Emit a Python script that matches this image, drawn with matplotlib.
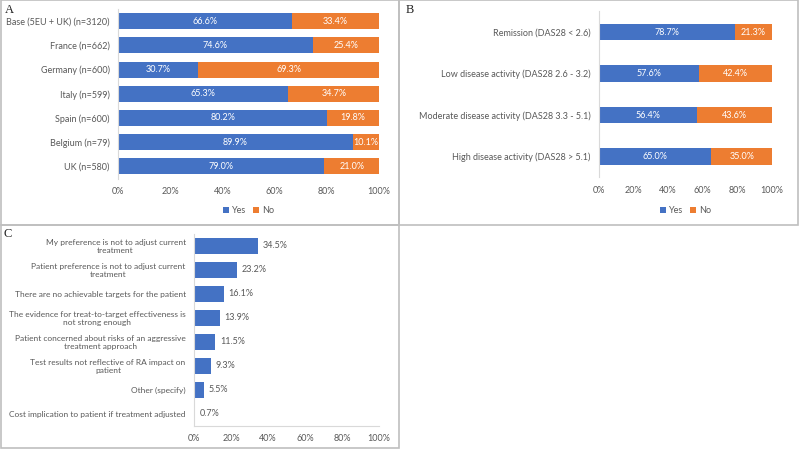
import matplotlib.pyplot as plt
from matplotlib.patches import Rectangle

# ---- data ----
a_labels = ['Base (5EU + UK) (n=3120)', 'France (n=662)', 'Germany (n=600)',
            'Italy (n=599)', 'Spain (n=600)', 'Belgium (n=79)', 'UK (n=580)']
a_yes = [66.6, 74.6, 30.7, 65.3, 80.2, 89.9, 79.0]
a_no = [33.4, 25.4, 69.3, 34.7, 19.8, 10.1, 21.0]

b_labels = ['Remission (DAS28 < 2.6)', 'Low disease activity (DAS28 2.6 - 3.2)',
            'Moderate disease activity (DAS28 3.3 - 5.1)', 'High disease activity (DAS28 > 5.1)']
b_yes = [78.7, 57.6, 56.4, 65.0]
b_no = [21.3, 42.4, 43.6, 35.0]

c_labels = ['My preference is not to adjust current\ntreatment',
            'Patient preference is not to adjust current\ntreatment',
            'There are no achievable targets for the patient',
            'The evidence for treat-to-target effectiveness is\nnot strong enough',
            'Patient concerned about risks of an aggressive\ntreatment approach',
            'Test results not reflective of RA impact on\npatient',
            'Other (specify)',
            'Cost implication to patient if treatment adjusted']
c_vals = [34.5, 23.2, 16.1, 13.9, 11.5, 9.3, 5.5, 0.7]

ticks = [0, 20, 40, 60, 80, 100]
tick_labels = ['0%', '20%', '40%', '60%', '80%', '100%']

BLUE = '#4472C4'
ORANGE = '#ED7D31'
GRAY = '#595959'
LINE = '#BFBFBF'
FS = 6.5

plt.rcParams['font.family'] = ['Lato', 'DejaVu Sans']
W, H = 799, 450
fig = plt.figure(figsize=(W / 100, H / 100), dpi=100)


def px_axes(x0, y0, x1, y1):
    return fig.add_axes([x0 / W, 1 - y1 / H, (x1 - x0) / W, (y1 - y0) / H])


def style_axis(ax, n):
    ax.set_xlim(0, 100)
    ax.set_ylim(n - 0.5, -0.5)
    ax.set_xticks(ticks)
    ax.set_xticklabels(tick_labels, fontsize=FS, color=GRAY)
    ax.tick_params(axis='both', length=0, pad=6)
    for s in ['top', 'right', 'bottom']:
        ax.spines[s].set_visible(False)
    ax.spines['left'].set_color('#D9D9D9')
    ax.spines['left'].set_linewidth(0.8)


def stacked(ax, labels, yes, no, height):
    y = list(range(len(labels)))
    ax.barh(y, yes, height=height, color=BLUE, label='Yes')
    ax.barh(y, no, left=yes, height=height, color=ORANGE, label='No')
    for i in y:
        ax.text(yes[i] / 2, i, f'{yes[i]:.1f}%', ha='center', va='center',
                color='white', fontsize=FS)
        ax.text(yes[i] + no[i] / 2, i, f'{no[i]:.1f}%', ha='center', va='center',
                color='white', fontsize=FS)
    style_axis(ax, len(labels))
    ax.set_yticks(y)
    ax.set_yticklabels(labels, fontsize=FS, color=GRAY)
    leg = ax.legend(loc='center', bbox_to_anchor=(0.5, -0.19), ncol=2, frameon=False,
                    fontsize=FS, handlelength=0.7, handleheight=0.7,
                    columnspacing=0.8, handletextpad=0.3)
    for t in leg.get_texts():
        t.set_color(GRAY)


# panel A
axA = px_axes(118, 8.9, 379, 178.6)
stacked(axA, a_labels, a_yes, a_no, 0.66)

# panel B
axB = px_axes(599, 11.3, 772, 177.3)
stacked(axB, b_labels, b_yes, b_no, 0.39)
axB.legend_.set_bbox_to_anchor((0.5, -0.2))

# panel C
axC = px_axes(194, 234, 379, 426)
yc = list(range(len(c_labels)))
axC.barh(yc, c_vals, height=0.67, color=BLUE)
for i in yc:
    axC.text(c_vals[i] + 2.5, i, f'{c_vals[i]:.1f}%', ha='left', va='center',
             color=GRAY, fontsize=FS)
style_axis(axC, len(c_labels))
axC.set_yticks(yc)
axC.set_yticklabels(c_labels, fontsize=6.0, color=GRAY, linespacing=1.15)
for t in axC.get_yticklabels():
    t.set_multialignment('center')
axC.spines['bottom'].set_visible(True)
axC.spines['bottom'].set_color('#D9D9D9')

# panel frames
for (x0, y0, x1, y1) in [(0.5, 0.5, 399, 225), (399, 0.5, 798, 225), (0.5, 225, 399, 448)]:
    fig.add_artist(Rectangle((x0 / W, 1 - y1 / H), (x1 - x0) / W, (y1 - y0) / H,
                             transform=fig.transFigure, fill=False,
                             edgecolor=LINE, linewidth=1.2))

for letter, x, y in [('A', 5, 10), ('B', 406, 10), ('C', 4, 234)]:
    fig.text(x / W, 1 - y / H, letter, fontsize=9, family='Liberation Serif',
             ha='left', va='center', color='#222222')

fig.savefig('out.png', dpi=100)
